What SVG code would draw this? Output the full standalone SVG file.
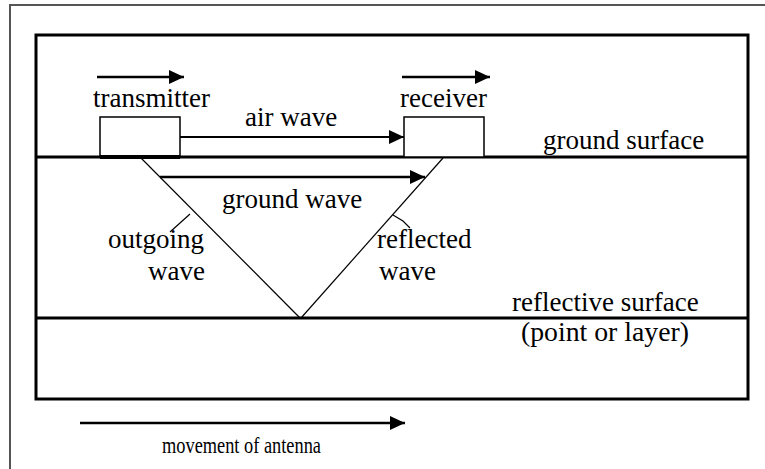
<svg xmlns="http://www.w3.org/2000/svg" width="765" height="469" viewBox="0 0 765 469">
<style>
text{font-family:"Liberation Serif","Times New Roman",serif;font-size:27px;fill:#000}
.frame{fill:none;stroke:#000;stroke-width:3}
.box{fill:#fff;stroke:#000;stroke-width:1.5}
.thin{fill:none;stroke:#000;stroke-width:1.2}
.arr{fill:none;stroke:#000;stroke-width:2.5;marker-end:url(#ah)}
.arr2{fill:none;stroke:#000;stroke-width:2;marker-end:url(#ah)}
</style>
<defs>
<marker id="ah" markerUnits="userSpaceOnUse" markerWidth="16" markerHeight="14" refX="15" refY="7" orient="auto">
<path d="M0,0 L15,7 L0,14 Z" fill="#000"/>
</marker>
</defs>
<rect width="765" height="469" fill="#fff"/>
<rect id="outer-frame" x="10" y="5" width="800" height="500" fill="none" stroke="#555" stroke-width="2"/>
<g id="section">
<rect class="frame" x="36" y="35" width="712" height="364"/>
<line x1="36" y1="157" x2="748" y2="157" stroke="#000" stroke-width="3"/>
<line x1="36" y1="318" x2="748" y2="318" stroke="#000" stroke-width="3"/>
</g>
<g id="transmitter">
<rect class="box" x="100" y="117" width="80" height="40"/>
<line x1="100" y1="157" x2="180" y2="157" stroke="#000" stroke-width="4"/>
<text x="93" y="107">transmitter</text>
</g>
<g id="receiver">
<rect class="box" x="404" y="117" width="80" height="40"/>
<text x="400" y="107">receiver</text>
</g>
<g id="connectors">
<line class="arr" x1="97" y1="77" x2="184" y2="77"/>
<line class="arr" x1="402" y1="77" x2="490" y2="77"/>
<line class="arr2" x1="180" y1="137" x2="404" y2="137"/>
<line class="arr" x1="160" y1="177" x2="425" y2="177"/>
<line class="thin" x1="141" y1="158" x2="300" y2="318"/>
<line class="thin" x1="301" y1="318" x2="443" y2="158"/>
<line class="thin" x1="190" y1="214" x2="170" y2="232"/>
<path class="thin" d="M393,215 L403,221 L410,228"/>
<line class="arr" x1="80" y1="423" x2="405" y2="423"/>
</g>
<g id="labels">
<text x="245" y="126">air wave</text>
<text x="543" y="149">ground surface</text>
<text x="222" y="208">ground wave</text>
<text x="108" y="248">outgoing</text>
<text x="148" y="280">wave</text>
<text x="377" y="248">reflected</text>
<text x="379" y="280">wave</text>
<text x="512" y="311">reflective surface</text>
<text x="521" y="341" textLength="168" lengthAdjust="spacingAndGlyphs">(point or layer)</text>
<text x="162" y="453" style="font-size:24px" textLength="159" lengthAdjust="spacingAndGlyphs">movement of antenna</text>
</g>
</svg>
